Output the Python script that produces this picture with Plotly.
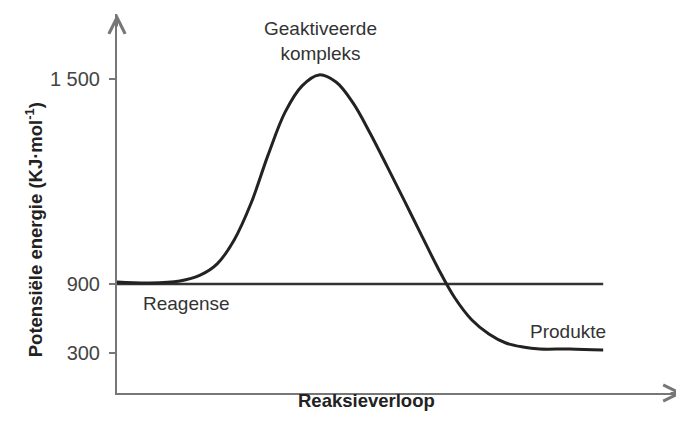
import numpy as np
import plotly.graph_objects as go

# Reaction progress (0 = start, 100 = end of the x axis arrow)
progress = [0, 5.8, 11.1, 14.7, 17.7, 20.7, 23.7, 26.7, 29.7, 32.7, 35.7,
            38.7, 41.7, 44.7, 47.7, 50.7, 53.7, 56.7, 59.7, 62.7, 65.7,
            68.7, 71.7, 74.7, 80.0, 85.9]
# Potential energy along the curve (kJ/mol)
energy = [906, 903, 909, 926, 959, 1029, 1137, 1278, 1403, 1480, 1512,
          1491, 1430, 1342, 1245, 1146, 1046, 947, 778, 587, 465,
          387, 352, 335, 335, 326]

reactant_level = 900
line_end = 85.9

tick_energy = [300, 900, 1500]
tick_text = ["300", "900", "1 500"]

# The drawing's y scale is not linear: the 300-900 gap is much shorter
# than the 900-1500 gap. Anchor points (energy -> axis height).
scale_energy = [0, 300, 900, 1500, 2100]
scale_axis = [5.5, 40, 109, 314, 519]


def to_axis(values):
    return np.interp(values, scale_energy, scale_axis)


AXIS_COLOR = "#777777"
FONT = "Liberation Sans, Arial, sans-serif"
TEXT_SIZE = 19

fig = go.Figure()

fig.add_trace(go.Scatter(
    x=[0, line_end],
    y=to_axis([reactant_level, reactant_level]),
    mode="lines",
    line=dict(color="#333333", width=2.5),
    hoverinfo="skip",
))

fig.add_trace(go.Scatter(
    x=progress,
    y=to_axis(energy),
    mode="lines",
    line=dict(color="#222222", width=3, shape="spline", smoothing=1.0,
              simplify=False),
    hoverinfo="skip",
))

fig.update_xaxes(
    range=[0, 100], showgrid=False, zeroline=False, automargin=False,
    showline=True, linecolor=AXIS_COLOR, linewidth=2,
    showticklabels=False, ticks="",
)
fig.update_yaxes(
    range=[0, 379], showgrid=False, zeroline=False, automargin=False,
    showline=True, linecolor=AXIS_COLOR, linewidth=2,
    tickvals=list(to_axis(tick_energy)), ticktext=tick_text,
    ticks="outside", ticklen=6, tickwidth=1.5, tickcolor=AXIS_COLOR,
    ticklabelstandoff=5,
    tickfont=dict(family=FONT, size=20, color="#444444"),
)

annotations = [
    # arrowheads on the axes
    dict(x=0, y=379, xref="x", yref="y", ax=0, ay=14, text="",
         showarrow=True, arrowhead=5, arrowsize=1.6, arrowwidth=2,
         arrowcolor=AXIS_COLOR),
    dict(x=100, y=0, xref="x", yref="y", ax=-14, ay=0, text="",
         showarrow=True, arrowhead=5, arrowsize=1.6, arrowwidth=2,
         arrowcolor=AXIS_COLOR),
    # labels
    dict(x=35.9, y=352, xref="x", yref="y", text="Geaktiveerde<br>kompleks",
         showarrow=False, font=dict(family=FONT, size=TEXT_SIZE, color="#333333")),
    dict(x=12.2, y=90, xref="x", yref="y", text="Reagense",
         showarrow=False, font=dict(family=FONT, size=TEXT_SIZE, color="#333333")),
    dict(x=79.7, y=62, xref="x", yref="y", text="Produkte",
         showarrow=False, font=dict(family=FONT, size=TEXT_SIZE, color="#333333")),
    # axis titles
    dict(x=-0.171, y=0.43, xref="paper", yref="paper", textangle=-90,
         text="<b>Potensiële energie (KJ·mol<sup>-1</sup>)</b>",
         showarrow=False, font=dict(family=FONT, size=18.5, color="#222222")),
    dict(x=44, y=0, xref="x", yref="paper", yshift=-20,
         text="<b>Reaksieverloop</b>",
         showarrow=False, font=dict(family=FONT, size=18.5, color="#222222")),
]

# the page body adds an 8px offset, so the figure is 8px smaller
fig.update_layout(
    width=676, height=417,
    margin=dict(l=109, r=1, t=6, b=32),
    paper_bgcolor="white", plot_bgcolor="white",
    showlegend=False,
    annotations=annotations,
)

fig.write_html("out.html")
